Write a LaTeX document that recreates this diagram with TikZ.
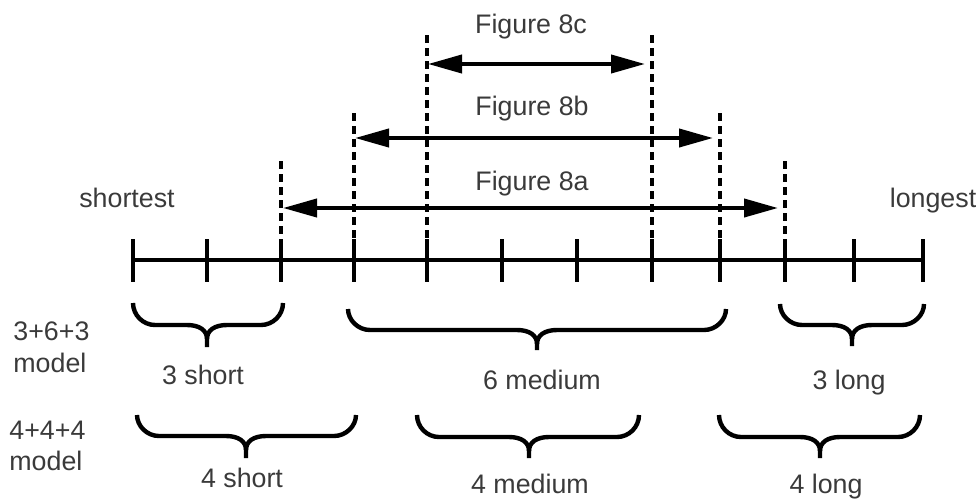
\documentclass[tikz,border=0pt]{standalone}
\usepackage{fontspec}
\setmainfont{Liberation Sans}
\usetikzlibrary{arrows.meta}
\definecolor{txt}{RGB}{58,58,58}
\tikzset{
  axisline/.style={line width=2.4pt},
  tickline/.style={line width=2.2pt},
  guide/.style={line width=2.2pt, dash pattern=on 4pt off 2.5pt},
  span/.style={line width=2pt,
    {Triangle[length=17pt,width=9pt]}-{Triangle[length=17pt,width=9pt]}},
  bracestyle/.style={line width=2.2pt},
  lbl/.style={text=txt, font=\fontsize{13.4}{16}\selectfont, inner sep=0pt, anchor=base},
  lblw/.style={lbl, anchor=base west},
}
% curly brace: name, left x, right x, middle x, top y, flat y, tip y
\newcommand\curlybrace[7]{%
  \coordinate (#1) at (#4,#7);
  \draw[bracestyle] (#2,#5) .. controls (#2,#6-10) and (#2+10,#6) .. (#2+22,#6)
    -- (#4-20,#6) .. controls (#4-8,#6) and (#4,#6+5) .. (#4,#6+14) -- (#4,#7);
  \draw[bracestyle] (#3,#5) .. controls (#3,#6-10) and (#3-10,#6) .. (#3-22,#6)
    -- (#4+20,#6) .. controls (#4+8,#6) and (#4,#6+5) .. (#4,#6+14);
}
\begin{document}
\begin{tikzpicture}[x=0.5pt,y=-0.5pt]
\useasboundingbox (0,0) rectangle (979,500);

% scale axis with its twelve ticks
\foreach \i/\x in {0/133,1/207,2/281,3/354,4/427,5/502,6/577,7/652,8/720,9/785,10/854,11/923}
  \coordinate (t\i) at (\x,260);
\draw[axisline] (t0) -- (t11);
\foreach \i in {0,...,11}
  \draw[tickline] ([yshift=10.5pt]t\i) -- ([yshift=-11pt]t\i);

% dashed guides rising from the boundary ticks
\coordinate (g2) at (281,161);
\coordinate (g3) at (354,113);
\coordinate (g4) at (427,35);
\coordinate (g7) at (652,35);
\coordinate (g8) at (720,113);
\coordinate (g9) at (785,161);
\foreach \g in {2,3,4,7,8,9}
  \draw[guide] (g\g) -- ([yshift=10.5pt]t\g);

% ranges covered by each figure
\coordinate (c-l) at (428,64);  \coordinate (c-r) at (645,64);
\coordinate (b-l) at (355,138); \coordinate (b-r) at (713,138);
\coordinate (a-l) at (283,208); \coordinate (a-r) at (778,208);
\draw[span] (c-l) -- (c-r);
\draw[span] (b-l) -- (b-r);
\draw[span] (a-l) -- (a-r);

\node[lbl] (f8c) at (531,33) {Figure 8c};
\node[lbl] (f8b) at (532,115) {Figure 8b};
\node[lbl] (f8a) at (532,190) {Figure 8a};
\node[lbl] (short) at (127,207) {shortest};
\node[lbl] (long) at (933,207) {longest};

% 3+6+3 grouping
\node[lblw] (m1a) at (13,340) {3+6+3};
\node[lblw] (m1b) at (13,372) {model};
\curlybrace{b1}{133}{283}{207}{303}{325}{347}
\curlybrace{b2}{348}{726}{537}{309}{330}{350}
\curlybrace{b3}{780}{924}{852}{304}{325}{346}
\node[lbl] (s3) at (203,384) {3 short};
\node[lbl] (m6) at (542,389) {6 medium};
\node[lbl] (l3) at (849,389) {3 long};

% 4+4+4 grouping
\node[lblw] (m2a) at (9,439) {4+4+4};
\node[lblw] (m2b) at (9,470) {model};
\curlybrace{b4}{137}{356}{246}{415}{436}{458}
\curlybrace{b5}{417}{639}{529}{415}{437}{458}
\curlybrace{b6}{719}{920}{820}{415}{437}{458}
\node[lbl] (s4) at (242,487) {4 short};
\node[lbl] (m4) at (530,493) {4 medium};
\node[lbl] (l4) at (826,493) {4 long};
\end{tikzpicture}
\end{document}
